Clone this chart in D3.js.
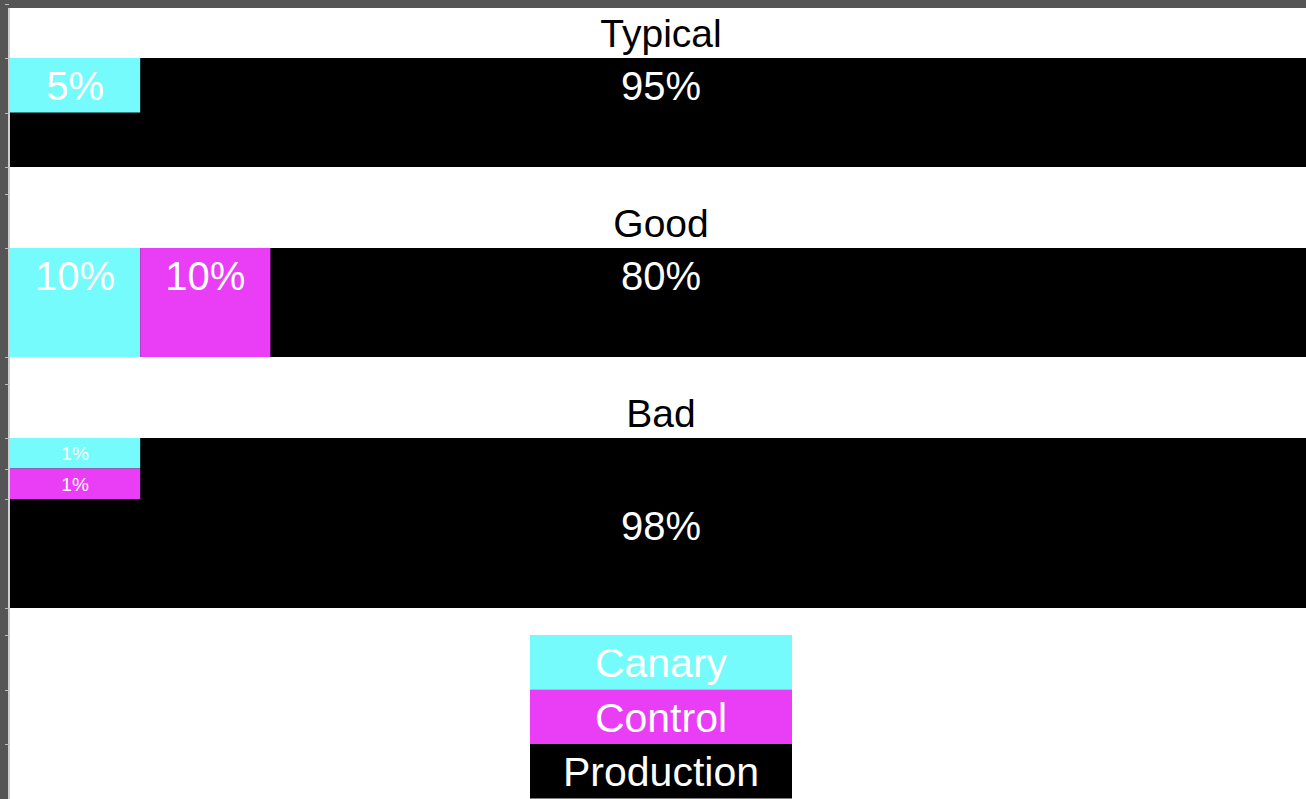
<!DOCTYPE html>
<html>
<head>
<meta charset="utf-8">
<script src="https://cdn.jsdelivr.net/npm/d3@7"></script>
<style>
  html, body { margin: 0; padding: 0; background: #555; }
  svg { display: block; }
  text { font-family: "Liberation Sans", Arial, Helvetica, sans-serif; }
</style>
</head>
<body>
<svg id="chart" width="1306" height="799"></svg>
<script>
// Traffic split per deployment scenario (percent of requests)
const scenarios  = ["Typical", "Good", "Bad"];
const canary     = [5, 10, 1];
const control    = [0, 10, 1];
const production = [95, 80, 98];
const groups     = ["Canary", "Control", "Production"];

const colors = { Canary: "#76FBFD", Control: "#E93EF6", Production: "#000000" };

// Page geometry
const W = 1306, H = 799;
const pageLeft = 10, pageTop = 8, pageRight = 1312;
const titleBand = 54, rowGap = 27;
const rowHeights = [109, 109, 170];
const prodLabelAt = ["top", "top", "middle"];
const slotShare = 10;      // one tile column spans this share of the row
const minTileH = 30.5;     // keep tiny shares tall enough to read
const labelSize = 40, titleSize = 39, legendSize = 41, smallSize = 19;

const svg = d3.select("#chart");

// Window chrome: grey frame, white page, thin ruler line
svg.append("rect").attr("width", W).attr("height", H).attr("fill", "#555");
svg.append("rect").attr("x", pageLeft).attr("y", pageTop)
  .attr("width", W - pageLeft).attr("height", H - pageTop).attr("fill", "#fff");
svg.append("rect").attr("x", 8).attr("y", pageTop)
  .attr("width", 2).attr("height", H - pageTop).attr("fill", "#cfcfcf");

const x = d3.scaleLinear().domain([0, 100]).range([pageLeft, pageRight]);
const slotW = x(slotShare) - x(0);
const midX = (pageLeft + pageRight) / 2;

// Row positions: title band above each row, gap below it
const rows = [];
let cursor = pageTop - 4;
scenarios.forEach((name, i) => {
  const top = cursor + titleBand;
  rows.push({ name, i, top, h: rowHeights[i] });
  cursor = top + rowHeights[i] + rowGap;
});

const ticks = [];
const root = svg.append("g");

rows.forEach(r => {
  const g = root.append("g");

  // Scenario title
  g.append("text")
    .attr("x", midX)
    .attr("y", r.top - 11)
    .attr("text-anchor", "middle")
    .attr("font-size", titleSize)
    .attr("fill", "#000")
    .text(r.name);
  ticks.push(r.top - titleBand, r.top, r.top + r.h);

  // Production fills the whole row behind the smaller tiles
  g.append("rect")
    .attr("x", x(0)).attr("y", r.top)
    .attr("width", x(100) - x(0)).attr("height", r.h)
    .attr("fill", colors.Production);

  // Pack canary / control tiles into slot columns, stacking down first
  const tiles = [
    { key: "Canary", v: canary[r.i] },
    { key: "Control", v: control[r.i] }
  ].filter(t => t.v > 0);

  let col = 0, yOff = 0;
  tiles.forEach(t => {
    const th = Math.max(minTileH, Math.min(1, t.v / slotShare) * r.h);
    if (yOff + th > r.h + 0.5) { col += 1; yOff = 0; }
    t.x0 = x(col * slotShare);
    t.y0 = r.top + yOff;
    t.h = th;
    yOff += th;
    if (yOff < r.h - 0.5) ticks.push(t.y0 + th);
  });

  g.selectAll("rect.tile").data(tiles).join("rect")
    .attr("class", "tile")
    .attr("x", d => d.x0).attr("y", d => d.y0)
    .attr("width", slotW).attr("height", d => d.h)
    .attr("fill", d => colors[d.key]);

  g.selectAll("text.tile").data(tiles).join("text")
    .attr("class", "tile")
    .attr("x", d => d.x0 + slotW / 2)
    .attr("y", d => d.y0 + Math.min(d.h, r.h / 2) / 2)
    .attr("dy", "0.36em")
    .attr("text-anchor", "middle")
    .attr("font-size", d => d.h < 45 ? smallSize : labelSize)
    .attr("fill", "#fff")
    .text(d => d.v + "%");

  // Production share label
  const py = prodLabelAt[r.i] === "top" ? r.top + r.h / 4 : r.top + r.h / 2 + 3;
  g.append("text")
    .attr("x", midX)
    .attr("y", py)
    .attr("dy", "0.36em")
    .attr("text-anchor", "middle")
    .attr("font-size", labelSize)
    .attr("fill", "#fff")
    .text(production[r.i] + "%");
});

// Legend
const last = rows[rows.length - 1];
const legTop = last.top + last.h + rowGap;
const legW = 262, legH = 54.5;
const legX = midX - legW / 2;
const yLeg = d3.scaleBand().domain(groups).range([legTop, legTop + legH * groups.length]);

const legend = svg.append("g");
legend.selectAll("rect").data(groups).join("rect")
  .attr("x", legX).attr("y", d => yLeg(d))
  .attr("width", legW).attr("height", yLeg.bandwidth())
  .attr("fill", d => colors[d]);
legend.selectAll("text").data(groups).join("text")
  .attr("x", legX + legW / 2)
  .attr("y", d => yLeg(d) + yLeg.bandwidth() / 2)
  .attr("dy", "0.36em")
  .attr("text-anchor", "middle")
  .attr("font-size", legendSize)
  .attr("fill", "#fff")
  .text(d => d);
groups.forEach(d => ticks.push(yLeg(d)));

// Ruler notches on the left edge
svg.append("g").selectAll("line").data(ticks).join("line")
  .attr("x1", 5).attr("x2", 9)
  .attr("y1", d => Math.round(d) + 0.5).attr("y2", d => Math.round(d) + 0.5)
  .attr("stroke", "#bdbdbd").attr("stroke-width", 1);
</script>
</body>
</html>
